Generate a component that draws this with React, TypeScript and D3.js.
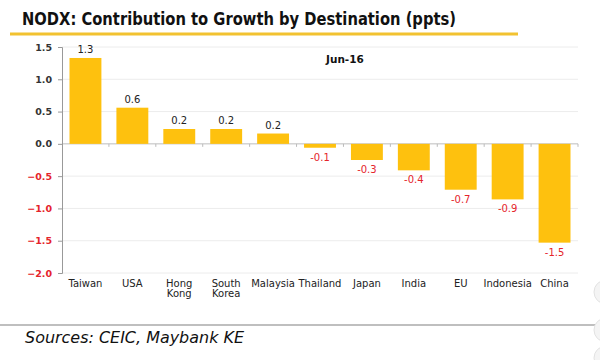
import React, { useEffect, useRef } from "react";
import * as d3 from "d3";

const categories = ["Taiwan", "USA", "Hong Kong", "South Korea", "Malaysia", "Thailand", "Japan", "India", "EU", "Indonesia", "China"];
const values = [1.33, 0.56, 0.23, 0.23, 0.16, -0.06, -0.25, -0.41, -0.71, -0.86, -1.53];
const valueLabels = ["1.3", "0.6", "0.2", "0.2", "0.2", "-0.1", "-0.3", "-0.4", "-0.7", "-0.9", "-1.5"];
const yTicks = [1.5, 1.0, 0.5, 0.0, -0.5, -1.0, -1.5, -2.0];

const App = () => {
    const svgRef = useRef<SVGSVGElement>(null);

    useEffect(() => {
        const svg = d3.select(svgRef.current);
        svg.selectAll("*").remove();

        const width = 600;
        const height = 360;
        const margin = { top: 47, right: 22, bottom: 87, left: 62 };
        const font = "DejaVu Sans, Verdana, sans-serif";
        const red = "#e5242b";
        const barColor = "#fec10e";

        svg.append("rect").attr("width", width).attr("height", height).attr("fill", "#fff");

        // Title and rule
        svg.append("text")
            .attr("x", 22).attr("y", 25)
            .attr("font-family", font).attr("font-weight", "bold").attr("font-size", 18.5)
            .attr("textLength", 434).attr("lengthAdjust", "spacingAndGlyphs")
            .attr("fill", "#111")
            .text("NODX: Contribution to Growth by Destination (ppts)");
        svg.append("line")
            .attr("x1", 10).attr("x2", 518).attr("y1", 34).attr("y2", 34)
            .attr("stroke", "#f2c230").attr("stroke-width", 3);

        const x = d3.scaleBand()
            .domain(categories)
            .range([margin.left, width - margin.right])
            .paddingInner(0.32).paddingOuter(0.16);

        const y = d3.scaleLinear()
            .domain([-2, 1.5])
            .range([height - margin.bottom, margin.top]);

        // Gridlines
        svg.append("g")
            .selectAll("line")
            .data(yTicks)
            .join("line")
            .attr("x1", margin.left).attr("x2", width - margin.right)
            .attr("y1", (d) => y(d)).attr("y2", (d) => y(d))
            .attr("stroke", (d) => (d === 0 ? "#bdbdbd" : "#ececec"))
            .attr("stroke-width", 1);

        // Y axis
        const yAxis = svg.append("g")
            .attr("transform", `translate(${margin.left},0)`)
            .call(d3.axisLeft(y).tickValues(yTicks).tickFormat(d3.format(".1f")).tickSize(4).tickPadding(6));
        yAxis.select(".domain").attr("stroke", "#999");
        yAxis.selectAll(".tick line").attr("stroke", "#999");
        yAxis.selectAll("text")
            .attr("font-family", font).attr("font-size", 9.5).attr("font-weight", "bold")
            .attr("fill", (d: any) => (d < 0 ? red : "#333"));

        // Category ticks on zero line
        const bounds = categories.map((c) => (x(c) as number) + x.bandwidth() + (x.step() * x.paddingInner()) / 2);
        svg.append("g")
            .selectAll("line")
            .data(bounds)
            .join("line")
            .attr("x1", (d) => d).attr("x2", (d) => d)
            .attr("y1", y(0)).attr("y2", y(0) + 3)
            .attr("stroke", "#bbb");

        // Bars
        svg.selectAll(".bar")
            .data(values)
            .join("rect")
            .attr("class", "bar")
            .attr("x", (_d, i) => x(categories[i]) as number)
            .attr("y", (d) => y(Math.max(0, d)))
            .attr("width", x.bandwidth())
            .attr("height", (d) => Math.abs(y(d) - y(0)))
            .attr("fill", barColor);

        // Value labels
        svg.selectAll(".vlabel")
            .data(values)
            .join("text")
            .attr("class", "vlabel")
            .attr("x", (_d, i) => (x(categories[i]) as number) + x.bandwidth() / 2)
            .attr("y", (d) => (d >= 0 ? y(d) - 5 : y(d) + 13))
            .attr("text-anchor", "middle")
            .attr("font-family", font).attr("font-size", 10)
            .attr("fill", (d) => (d < 0 ? red : "#222"))
            .text((_d, i) => valueLabels[i]);

        // Category labels
        const catLabels = svg.append("g");
        categories.forEach((c) => {
            const words = c.split(" ");
            const cx = (x(c) as number) + x.bandwidth() / 2;
            const t = catLabels.append("text")
                .attr("x", cx).attr("y", 287)
                .attr("text-anchor", "middle")
                .attr("font-family", font).attr("font-size", 10)
                .attr("fill", "#222");
            words.forEach((w, i) => {
                t.append("tspan").attr("x", cx).attr("dy", i === 0 ? 0 : 10).text(w);
            });
        });

        // Annotation
        svg.append("text")
            .attr("x", 326).attr("y", 63)
            .attr("font-family", font).attr("font-size", 10.5).attr("font-weight", "bold")
            .attr("fill", "#111")
            .text("Jun-16");

        // Footer
        svg.append("line")
            .attr("x1", 0).attr("x2", 600).attr("y1", 325).attr("y2", 325)
            .attr("stroke", "#aaa").attr("stroke-width", 1.5);
        svg.append("text")
            .attr("x", 25).attr("y", 343)
            .attr("font-family", font).attr("font-style", "italic").attr("font-size", 16)
            .attr("textLength", 219).attr("lengthAdjust", "spacingAndGlyphs")
            .attr("fill", "#111")
            .text("Sources: CEIC, Maybank KE");

        // Faint edge decorations
        svg.append("g")
            .selectAll("circle")
            .data([292, 330, 358])
            .join("circle")
            .attr("cx", 606).attr("cy", (d) => d).attr("r", 12)
            .attr("fill", "#f4f4f4").attr("stroke", "#e2e2e2");
    }, []);

    return (
        <svg
            ref={svgRef}
            width={600}
            height={360}
            style={{ position: "absolute", left: 0, top: 0, display: "block" }}
        ></svg>
    );
};

export default App;
